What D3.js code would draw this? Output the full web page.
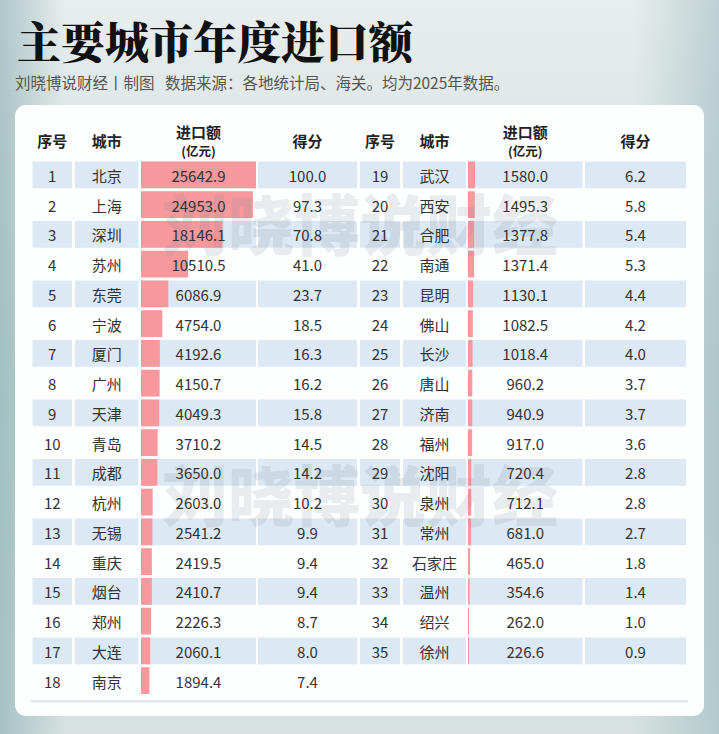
<!DOCTYPE html>
<html>
<head>
<meta charset="utf-8">
<script src="https://cdn.jsdelivr.net/npm/d3@7"></script>
<style>
  body { margin: 0; background: #dfe7e8; }
  svg { display: block; }
</style>
</head>
<body>
<div id="chart"></div>
<script>
// data
const ranks = d3.range(1, 36);
const cities = ["北京", "上海", "深圳", "苏州", "东莞", "宁波", "厦门", "广州", "天津", "青岛",
    "成都", "杭州", "无锡", "重庆", "烟台", "郑州", "大连", "南京", "武汉", "西安",
    "合肥", "南通", "昆明", "佛山", "长沙", "唐山", "济南", "福州", "沈阳", "泉州",
    "常州", "石家庄", "温州", "绍兴", "徐州"];
const imports = [25642.9, 24953.0, 18146.1, 10510.5, 6086.9, 4754.0, 4192.6, 4150.7, 4049.3, 3710.2,
    3650.0, 2603.0, 2541.2, 2419.5, 2410.7, 2226.3, 2060.1, 1894.4, 1580.0, 1495.3,
    1377.8, 1371.4, 1130.1, 1082.5, 1018.4, 960.2, 940.9, 917.0, 720.4, 712.1,
    681.0, 465.0, 354.6, 262.0, 226.6];
const scores = [100.0, 97.3, 70.8, 41.0, 23.7, 18.5, 16.3, 16.2, 15.8, 14.5,
    14.2, 10.2, 9.9, 9.4, 9.4, 8.7, 8.0, 7.4, 6.2, 5.8,
    5.4, 5.3, 4.4, 4.2, 4.0, 3.7, 3.7, 3.6, 2.8, 2.8,
    2.7, 1.8, 1.4, 1.0, 0.9];
const headers = ["序号", "城市", "进口额", "得分"];

const title = "主要城市年度进口额";
const subtitle = "刘晓博说财经丨制图   数据来源：各地统计局、海关。均为2025年数据。";
const watermark = "刘晓博说财经";

document.addEventListener("DOMContentLoaded", function () {
    const width = 719;
    const height = 734;
    const rowsPerSide = 18;
    const font = "'Noto Sans CJK SC', 'Noto Sans', sans-serif";

    const svg = d3.select("#chart").append("svg")
        .attr("width", width)
        .attr("height", height);

    // background
    const defs = svg.append("defs");
    const bgV = defs.append("linearGradient").attr("id", "bgV")
        .attr("x1", 0).attr("y1", 0).attr("x2", 0).attr("y2", 1);
    bgV.append("stop").attr("offset", "0%").attr("stop-color", "#e8eded");
    bgV.append("stop").attr("offset", "55%").attr("stop-color", "#cbdadb");
    bgV.append("stop").attr("offset", "100%").attr("stop-color", "#d6e1e0");
    const bgH = defs.append("linearGradient").attr("id", "bgH")
        .attr("x1", 0).attr("y1", 0).attr("x2", 1).attr("y2", 0);
    bgH.append("stop").attr("offset", "0%").attr("stop-color", "#7fa8ab").attr("stop-opacity", 0.55);
    bgH.append("stop").attr("offset", "9%").attr("stop-color", "#7fa8ab").attr("stop-opacity", 0);
    bgH.append("stop").attr("offset", "88%").attr("stop-color", "#7fa8ab").attr("stop-opacity", 0);
    bgH.append("stop").attr("offset", "100%").attr("stop-color", "#7fa8ab").attr("stop-opacity", 0.4);

    svg.append("rect").attr("width", width).attr("height", height).attr("fill", "url(#bgV)");
    svg.append("rect").attr("width", width).attr("height", height).attr("fill", "url(#bgH)");

    // title block
    svg.append("text")
        .attr("x", 17)
        .attr("y", 40)
        .attr("dominant-baseline", "central")
        .style("font-family", "'Noto Serif CJK SC', 'Noto Sans CJK SC', serif")
        .style("font-weight", 900)
        .style("font-size", "44px")
        .style("fill", "#111")
        .text(title);

    svg.append("text")
        .attr("x", 15)
        .attr("y", 82)
        .attr("dominant-baseline", "central")
        .style("font-family", font)
        .style("font-size", "15.5px")
        .style("fill", "#555")
        .attr("xml:space", "preserve")
        .text(subtitle);

    // card
    svg.append("rect")
        .attr("x", 15).attr("y", 105)
        .attr("width", 689).attr("height", 611)
        .attr("rx", 11)
        .attr("fill", "#fdfefe");

    // column layout: [left, right] of each cell, for the two halves
    const sides = [
        { cols: [[32.5, 72], [75, 138.5], [141, 256], [258, 357]], start: 0, count: 18 },
        { cols: [[360, 400], [403, 466], [468, 582.5], [585, 686]], start: 18, count: 17 }
    ];

    const y = d3.scaleBand()
        .domain(d3.range(rowsPerSide))
        .range([161.5, 694])
        .paddingInner(0.1)
        .paddingOuter(0);

    const barW = d3.scaleLinear()
        .domain([0, d3.max(imports)])
        .range([0, 115]);

    const rows = ranks.map((r, i) => ({
        rank: r, city: cities[i], value: imports[i], score: scores[i], idx: i
    }));

    const mid = c => (c[0] + c[1]) / 2;
    const cellLayer = svg.append("g");
    const markLayer = svg.append("g");
    const textLayer = svg.append("g");

    sides.forEach(side => {
        const data = rows.slice(side.start, side.start + side.count);

        // header
        headers.forEach((h, k) => {
            const t = textLayer.append("text")
                .attr("x", mid(side.cols[k]))
                .attr("text-anchor", "middle")
                .attr("dominant-baseline", "central")
                .style("font-family", font)
                .style("font-weight", 700)
                .style("font-size", "15px")
                .style("fill", "#222");
            if (k === 2) {
                t.attr("y", 131).text(h);
                textLayer.append("text")
                    .attr("x", mid(side.cols[k]))
                    .attr("y", 150)
                    .attr("text-anchor", "middle")
                    .attr("dominant-baseline", "central")
                    .style("font-family", font)
                    .style("font-weight", 700)
                    .style("font-size", "12.5px")
                    .style("fill", "#222")
                    .text("(亿元)");
            } else {
                t.attr("y", 140).text(h);
            }
        });

        const row = cellLayer.selectAll(null)
            .data(data)
            .enter().append("g")
            .attr("transform", (d, i) => `translate(0,${y(i)})`);

        // striped cells on odd ranks
        side.cols.forEach(c => {
            row.filter(d => d.rank % 2 === 1)
                .append("rect")
                .attr("x", c[0])
                .attr("width", c[1] - c[0])
                .attr("height", y.bandwidth())
                .attr("fill", "#dce8f3");
        });

        row.append("rect")
            .attr("x", side.cols[2][0])
            .attr("width", d => barW(d.value))
            .attr("height", y.bandwidth())
            .attr("fill", "#f6989c");

        const rowText = textLayer.selectAll(null)
            .data(data)
            .enter().append("g")
            .attr("transform", (d, i) => `translate(0,${y(i)})`);

        const cellText = (k, fn) => rowText.append("text")
            .attr("x", mid(side.cols[k]))
            .attr("y", y.bandwidth() / 2 + 0.5)
            .attr("text-anchor", "middle")
            .attr("dominant-baseline", "central")
            .style("font-family", font)
            .style("font-size", "15px")
            .style("fill", "#333")
            .text(fn);

        cellText(0, d => d.rank);
        cellText(1, d => d.city);
        cellText(2, d => d.value.toFixed(1));
        cellText(3, d => d.score.toFixed(1));
    });

    // bottom rule
    cellLayer.append("rect")
        .attr("x", 31).attr("y", 700)
        .attr("width", 657).attr("height", 2.5)
        .attr("fill", "#e3e7eb");

    // watermarks, under the cell texts
    [221, 492].forEach(cy => {
        markLayer.append("text")
            .attr("x", 360)
            .attr("y", cy)
            .attr("text-anchor", "middle")
            .attr("dominant-baseline", "central")
            .style("font-family", font)
            .style("font-weight", 900)
            .style("font-size", "66px")
            .style("fill", "#7f8c9c")
            .style("fill-opacity", 0.16)
            .text(watermark);
    });
});
</script>
</body>
</html>
